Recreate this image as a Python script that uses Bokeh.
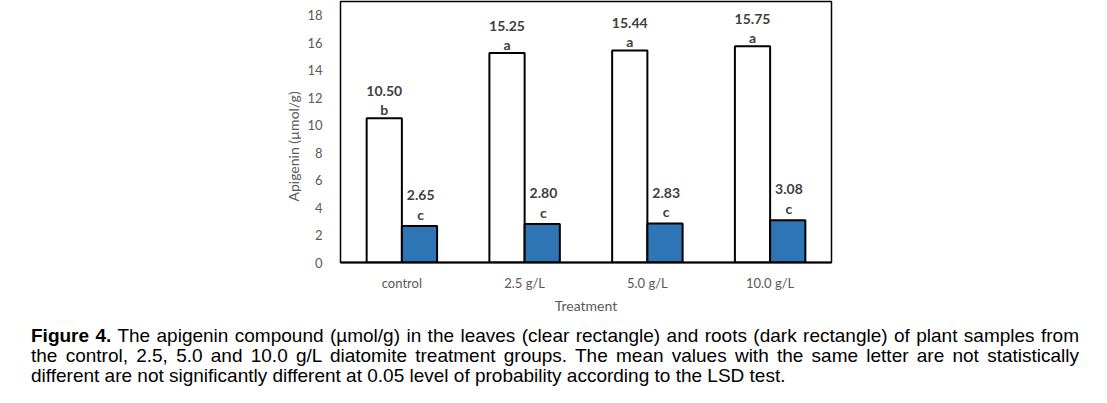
from bokeh.plotting import figure
from bokeh.models import ColumnDataSource, FactorRange, FixedTicker, Div, Range1d, Title
from bokeh.transform import dodge
from bokeh.layouts import column
from bokeh.embed import file_html
from bokeh.resources import INLINE
from bokeh.core.properties import value

treatments = ["control", "2.5 g/L", "5.0 g/L", "10.0 g/L"]
leaves = [10.50, 15.25, 15.44, 15.75]
roots = [2.65, 2.80, 2.83, 3.08]
leaves_letters = ["b", "a", "a", "a"]
roots_letters = ["c", "c", "c", "c"]
y_ticks = [0, 2, 4, 6, 8, 10, 12, 14, 16, 18]

src = ColumnDataSource(dict(
    t=treatments, leaves=leaves, roots=roots,
    leaves_lab=["%.2f" % v for v in leaves],
    roots_lab=["%.2f" % v for v in roots],
    leaves_let=leaves_letters, roots_let=roots_letters,
))

FONT = "Lato"
p = figure(width=1091, height=326, output_backend="svg", toolbar_location=None,
           x_range=FactorRange(factors=treatments, range_padding=0),
           y_range=Range1d(0, 19),
           min_border_left=340, min_border_right=260, min_border_top=1,
           min_border_bottom=64)
p.xgrid.visible = False
p.ygrid.visible = False
p.outline_line_color = "black"
p.outline_line_width = 1.5
p.background_fill_color = "white"
p.border_fill_color = "white"

bw = 0.287
p.vbar(x=dodge("t", -bw / 2, range=p.x_range), top="leaves", width=bw, source=src,
       fill_color="white", line_color="black", line_width=2)
p.vbar(x=dodge("t", bw / 2, range=p.x_range), top="roots", width=bw, source=src,
       fill_color="#2E75B6", line_color="black", line_width=2)

common = dict(text_font=value(FONT), text_font_style="bold", text_font_size="14px",
              text_color="#404040", text_align="center", text_baseline="middle", source=src)
p.text(x=dodge("t", -bw / 2, range=p.x_range), y="leaves", text="leaves_lab", y_offset=-27, **common)
p.text(x=dodge("t", -bw / 2, range=p.x_range), y="leaves", text="leaves_let", y_offset=-9, **common)
p.text(x=dodge("t", bw / 2 + 0.01, range=p.x_range), y="roots", text="roots_lab", y_offset=-31, **common)
p.text(x=dodge("t", bw / 2 + 0.01, range=p.x_range), y="roots", text="roots_let", y_offset=-12, **common)

# y axis
p.yaxis.ticker = FixedTicker(ticks=y_ticks)
p.yaxis.axis_line_color = None
p.yaxis.major_tick_line_color = None
p.yaxis.minor_tick_line_color = None
p.yaxis.major_label_text_font = FONT
p.yaxis.major_label_text_font_size = "13px"
p.yaxis.major_label_text_color = "#595959"
p.yaxis.major_label_standoff = 12

ylab = Title(text="Apigenin (µmol/g)", align="left", offset=61, standoff=6,
             text_font=FONT, text_font_size="14px", text_font_style="normal",
             text_color="#595959")
p.add_layout(ylab, "left")

# x axis
p.xaxis.axis_line_color = "black"
p.xaxis.axis_line_width = 2
p.xaxis.major_tick_line_color = None
p.xaxis.minor_tick_line_color = None
p.xaxis.major_label_text_font = FONT
p.xaxis.major_label_text_font_size = "13px"
p.xaxis.major_label_text_color = "#595959"
p.xaxis.major_label_standoff = 6
p.xaxis.axis_label = "Treatment"
p.xaxis.axis_label_text_font = FONT
p.xaxis.axis_label_text_font_style = "normal"
p.xaxis.axis_label_text_font_size = "14px"
p.xaxis.axis_label_text_color = "#595959"
p.xaxis.axis_label_standoff = 3

line_style = "text-align:justify;text-align-last:justify;"
last_style = "text-align:left;"
cap_html = (
    '<div style="font-family:\'Liberation Sans\',Arial,sans-serif;font-size:19px;'
    'line-height:20px;color:#000;width:1048px;">'
    '<div style="%s"><b>Figure 4.</b> The apigenin compound (µmol/g) in the leaves (clear rectangle) '
    'and roots (dark rectangle) of plant samples from</div>'
    '<div style="%s">the control, 2.5, 5.0 and 10.0 g/L diatomite treatment groups. The mean values '
    'with the same letter are not statistically</div>'
    '<div style="%s">different are not significantly different at 0.05 level of probability according '
    'to the LSD test.</div>'
    '</div>'
) % (line_style, line_style, last_style)
cap = Div(text=cap_html, width=1048, height=62, margin=(0, 0, 0, 31))

layout = column(p, cap, spacing=0)
open("out.html", "w").write(file_html(layout, INLINE))
